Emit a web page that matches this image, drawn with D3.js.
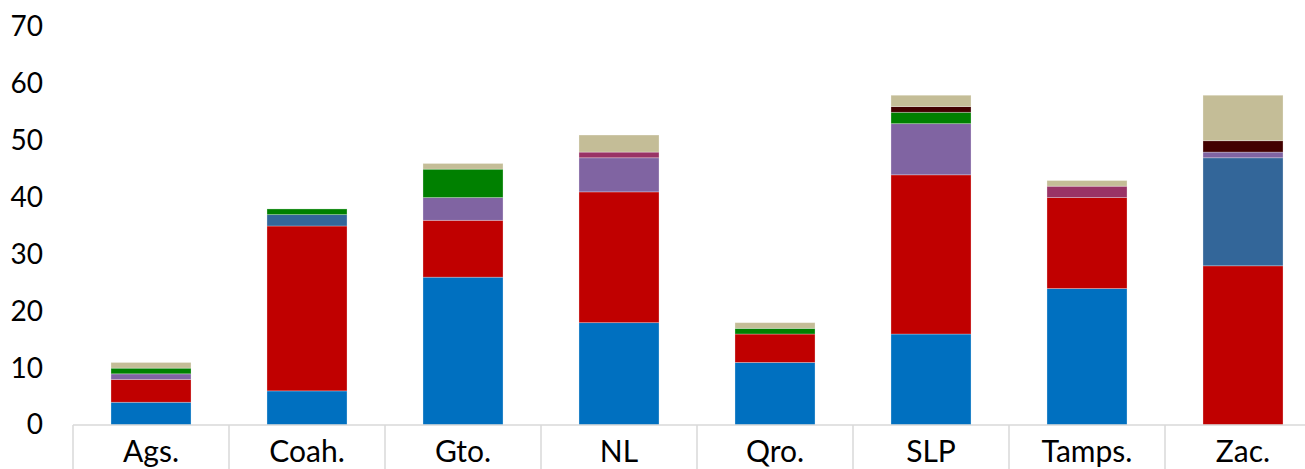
<!DOCTYPE html>
<html>
<head>
<meta charset="utf-8">
<script src="https://cdn.jsdelivr.net/npm/d3@7"></script>
<style>
  body { margin: 0; background: #fff; }
  #chart { width: 1305px; height: 469px; }
  text { font-family: Lato, "Open Sans", sans-serif; fill: #000; }
</style>
</head>
<body>
<div id="chart"></div>
<script>
// categories and series (bottom to top)
var states = ["Ags.", "Coah.", "Gto.", "NL", "Qro.", "SLP", "Tamps.", "Zac."];
var s1 = [4, 6, 26, 18, 11, 16, 24, 0];
var s2 = [4, 29, 10, 23, 5, 28, 16, 28];
var s3 = [0, 2, 0, 0, 0, 0, 0, 19];
var s4 = [1, 0, 4, 6, 0, 9, 0, 1];
var s5 = [0, 0, 0, 1, 0, 0, 2, 0];
var s6 = [1, 1, 5, 0, 1, 2, 0, 0];
var s7 = [0, 0, 0, 0, 0, 1, 0, 2];
var s8 = [1, 0, 1, 3, 1, 2, 1, 8];
var yTicks = [0, 10, 20, 30, 40, 50, 60, 70];

var seriesList = [s1, s2, s3, s4, s5, s6, s7, s8];
var colors = ["#0070C0", "#C00000", "#336699", "#8064A2", "#993366", "#008000", "#420000", "#C4BD97"];

var w = 1305, h = 469;
var margin = {top: 27, left: 73, bottom: 44};

var svg = d3.select("#chart").append("svg")
    .attr("width", w)
    .attr("height", h);

// build rows for the stack
var rows = states.map(function(s, i) {
  var r = {state: s};
  seriesList.forEach(function(arr, k) { r["k" + k] = arr[i]; });
  return r;
});
var keys = seriesList.map(function(d, k) { return "k" + k; });
var stacked = d3.stack().keys(keys)(rows);

var x = d3.scaleBand()
    .domain(states)
    .range([margin.left, margin.left + 156 * 8])
    .paddingInner(0.487)
    .paddingOuter(0.2435);

var y = d3.scaleLinear()
    .domain([0, 70])
    .range([h - margin.bottom, margin.top]);

// bars
svg.selectAll("g.layer")
  .data(stacked)
  .enter().append("g")
    .attr("class", "layer")
    .attr("fill", function(d, i) { return colors[i]; })
  .selectAll("rect")
  .data(function(d) { return d; })
  .enter().append("rect")
    .attr("x", function(d) { return x(d.data.state); })
    .attr("width", x.bandwidth())
    .attr("y", function(d) { return y(d[1]); })
    .attr("height", function(d) { return y(d[0]) - y(d[1]); })
    .attr("stroke", "#fff")
    .attr("stroke-opacity", 0.35)
    .attr("stroke-width", 0.8);

// y axis - labels only
var yAxis = d3.axisLeft(y).tickValues(yTicks).tickSize(0).tickPadding(0);
var gy = svg.append("g")
    .attr("transform", "translate(43,0)")
    .call(yAxis);
gy.select(".domain").remove();
gy.selectAll("text")
    .style("font-size", "28px")
    .style("font-family", "Lato, 'Open Sans', sans-serif");

// x axis with category dividers
var baseY = y(0);
svg.append("line")
    .attr("x1", margin.left).attr("x2", w)
    .attr("y1", baseY).attr("y2", baseY)
    .attr("stroke", "#D9D9D9").attr("stroke-width", 1.5);

var step = x.step();
svg.selectAll("line.div")
  .data(d3.range(states.length + 1))
  .enter().append("line")
    .attr("class", "div")
    .attr("x1", function(i) { return margin.left + i * step; })
    .attr("x2", function(i) { return margin.left + i * step; })
    .attr("y1", baseY).attr("y2", h)
    .attr("stroke", "#D9D9D9").attr("stroke-width", 1.5);

svg.selectAll("text.cat")
  .data(states)
  .enter().append("text")
    .attr("class", "cat")
    .attr("x", function(d) { return x(d) + x.bandwidth() / 2; })
    .attr("y", 462)
    .attr("text-anchor", "middle")
    .style("font-size", "30px")
    .text(function(d) { return d; });
</script>
</body>
</html>
